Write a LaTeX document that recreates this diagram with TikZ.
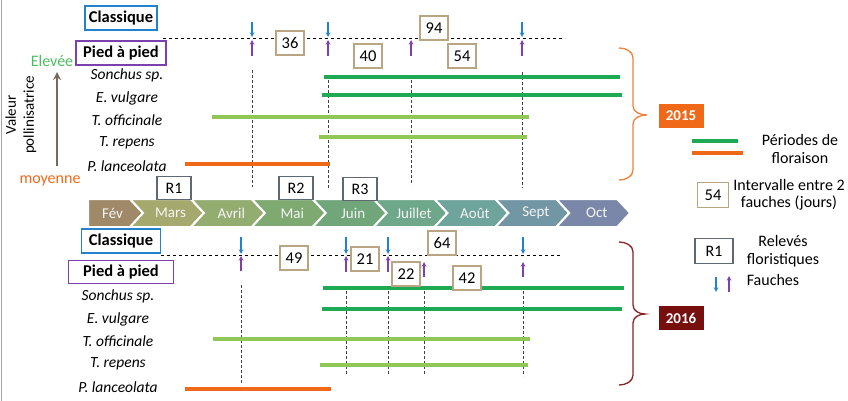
\documentclass[tikz,border=0pt]{standalone}
\usepackage{fontspec}
\setmainfont{Carlito}
\definecolor{myblue}{RGB}{35,130,205}
\definecolor{mypurple}{RGB}{125,65,175}
\definecolor{mytan}{RGB}{185,165,130}
\definecolor{mygray}{RGB}{95,105,115}
\definecolor{darkgreen}{RGB}{30,170,85}
\definecolor{lightgreen}{RGB}{145,200,85}
\definecolor{myorange}{RGB}{240,105,25}
\definecolor{bracered}{RGB}{135,35,35}
\definecolor{yearred}{RGB}{120,15,15}
\definecolor{elevgreen}{RGB}{75,190,95}
\definecolor{arrowbrown}{RGB}{120,105,95}
\definecolor{mA}{RGB}{160,137,104}
\definecolor{mB}{RGB}{166,169,110}
\definecolor{mC}{RGB}{147,172,112}
\definecolor{mD}{RGB}{126,169,113}
\definecolor{mE}{RGB}{113,166,122}
\definecolor{mF}{RGB}{110,167,137}
\definecolor{mG}{RGB}{110,164,155}
\definecolor{mH}{RGB}{115,150,165}
\definecolor{mI}{RGB}{123,135,168}
\usetikzlibrary{positioning}

\begin{document}
\begin{tikzpicture}[x=1pt,y=-1pt,
    every node/.style={font=\fontsize{15}{18}\selectfont},
    modebox/.style={draw,line width=1.3pt,font=\bfseries\fontsize{16.5}{18}\selectfont,minimum height=24pt,inner sep=0pt},
    numbox/.style={draw=mytan,line width=1.5pt,fill=white,minimum width=28pt,minimum height=24pt,inner sep=0pt,font=\fontsize{16.5}{18}\selectfont},
    relbox/.style={draw=mygray,line width=1.3pt,fill=white,minimum width=34pt,minimum height=23pt,inner sep=0pt,font=\fontsize{16}{18}\selectfont},
    yearbox/.style={draw=none,text=white,minimum width=45pt,minimum height=24pt,inner sep=0pt,font=\bfseries\fontsize{15}{17}\selectfont},
    species/.style={font=\itshape\fontsize{15.5}{18}\selectfont},
    monthlbl/.style={text=white!92!gray,font=\fontsize{15}{17}\selectfont},
    legtext/.style={align=center,font=\fontsize{16}{17.5}\selectfont},
    fauche/.style={dashed,line width=0.9pt},
    repere/.style={densely dashed,line width=0.5pt,black!75},
    bar/.style={line width=3.4pt},
    downarr/.style={-stealth,myblue,line width=1.1pt},
    uparr/.style={-stealth,mypurple,line width=1.1pt}
    ]
    \useasboundingbox (0,0) rectangle (848,401);
    \draw[gray!70,line width=1pt] (1,0) -- (1,401);

    % axe valeur pollinisatrice
    \node[rotate=90,align=center] (valeur) at (21,115) {Valeur\\pollinisatrice};
    \node[text=elevgreen,font=\fontsize{16}{18}\selectfont] (elev) at (52,61) {Elevée};
    \node[text=myorange,font=\fontsize{16}{18}\selectfont] (moy) at (50,181) {moyenne};
    \draw[arrowbrown,line width=2.5pt,-stealth] (57,166) -- (57,72);

    % les mois
    \foreach \m/\c [count=\i from 0] in {Fév/mA,Mars/mB,Avril/mC,Mai/mD,Juin/mE,Juillet/mF,Août/mG,Sept/mH,Oct/mI} {
      \pgfmathsetmacro\tip{143+60.9*\i}
      \pgfmathsetmacro\lft{ifthenelse(\i==0,88,\tip-73.9)}
      \pgfmathsetmacro\nch{ifthenelse(\i==0,0,13)}
      \filldraw[fill=\c,draw=white,line width=2pt] (\lft,199) -- (\tip-13,199) -- (\tip,213) -- (\tip-13,227) -- (\lft,227) -- (\lft+\nch,213) -- cycle;
      \node[monthlbl] (m\i) at ({(\lft+\nch+\tip)/2-3},213) {\m};
    }

    % 2015
    \node[modebox,draw=myblue,minimum width=72pt] (c15) at (121,18) {Classique};
    \node[modebox,draw=mypurple,minimum width=90pt] (p15) at (121,53) {Pied à pied};
    \node[species] (s15) at (127,75) {Sonchus sp.};
    \node[species] (e15) at (127,98) {E. vulgare};
    \node[species] (t15) at (127,120) {T. officinale};
    \node[species] (r15) at (127,143) {T. repens};
    \node[species] (l15) at (127,166) {P. lanceolata};

    \foreach \x/\a/\b in {252/70/187,328/75/188,411/75/185,522/72/188}
      \draw[repere] (\x,\a) -- (\x,\b);
    \draw[fauche] (163,38) -- (565,38);
    \foreach \x in {252,328,522}
      \draw[downarr] (\x,22) -- (\x,37);
    \foreach \x in {252,328,411,522}
      \draw[uparr] (\x,56) -- (\x,40);

    \draw[bar,darkgreen] (324,77) -- (620,77);
    \draw[bar,darkgreen] (322,95) -- (622,95);
    \draw[bar,lightgreen] (212,117) -- (529,117);
    \draw[bar,lightgreen] (319,137) -- (527,137);
    \draw[bar,myorange] (185,164) -- (330,164);

    \node[numbox] (i36) at (290,43) {36};
    \node[numbox] (i94) at (434,28) {94};
    \node[numbox] (i40) at (368,56) {40};
    \node[numbox] (i54) at (462,56) {54};

    \node[relbox] (r1) at (174,188) {R1};
    \node[relbox] (r2) at (296,188) {R2};
    \node[relbox] (r3) at (360,189) {R3};

    \draw[myorange!85!white,line width=1.3pt] (619,48) to[out=0,in=90] (633,58) -- (633,106)
      to[out=-90,in=180] (647,115) to[out=180,in=90] (633,124) -- (633,170) to[out=-90,in=0] (619,180);
    \node[yearbox,fill=myorange] (y15) at (681,116) {2015};

    % 2016
    \node[modebox,draw=myblue,minimum width=79pt] (c16) at (121,241) {Classique};
    \node[modebox,draw=mypurple,minimum width=105pt,minimum height=23pt] (p16) at (121,272) {Pied à pied};
    \node[species] (s16) at (118,296) {Sonchus sp.};
    \node[species] (e16) at (118,319) {E. vulgare};
    \node[species] (t16) at (118,341) {T. officinale};
    \node[species] (r16) at (118,364) {T. repens};
    \node[species] (l16) at (118,387) {P. lanceolata};

    \foreach \x/\a/\b in {241/285/385,346/286/375,388/286/375,424/286/375,523/286/376}
      \draw[repere] (\x,\a) -- (\x,\b);
    \draw[fauche] (161,255) -- (562,255);
    \foreach \x in {241,346,388,523}
      \draw[downarr] (\x,237) -- (\x,254);
    \foreach \x/\a/\b in {241/271/256,346/272/256,388/272/256,424/277/262,523/277/262}
      \draw[uparr] (\x,\a) -- (\x,\b);

    \draw[bar,darkgreen] (323,288) -- (624,288);
    \draw[bar,darkgreen] (322,309) -- (622,309);
    \draw[bar,lightgreen] (213,339) -- (530,339);
    \draw[bar,lightgreen] (320,365) -- (528,365);
    \draw[bar,myorange] (185,389) -- (331,389);

    \node[numbox] (i49) at (294,258) {49};
    \node[numbox] (i21) at (365,259) {21};
    \node[numbox] (i22) at (406,274) {22};
    \node[numbox] (i64) at (442,243) {64};
    \node[numbox] (i42) at (467,278) {42};

    \draw[bracered,line width=1.3pt] (619,242) to[out=0,in=90] (633,252) -- (633,305)
      to[out=-90,in=180] (645,314) to[out=180,in=90] (633,323) -- (633,375) to[out=-90,in=0] (619,385);
    \node[yearbox,fill=yearred] (y16) at (681,318) {2016};

    % legende
    \draw[bar,darkgreen] (692,141) -- (738,141);
    \draw[bar,myorange] (692,153) -- (743,153);
    \node[legtext] (lflor) at (800,149) {Périodes de\\floraison};
    \node[numbox,minimum width=31pt,minimum height=25pt] (lint) at (713,195) {54};
    \node[legtext] (lintt) at (789,195) {Intervalle entre 2\\fauches (jours)};
    \node[relbox,minimum width=38pt,minimum height=25pt] (lrel) at (714,251) {R1};
    \node[legtext] (lrelt) at (783,251) {Relevés\\floristiques};
    \draw[downarr] (716,277) -- (716,292);
    \draw[uparr] (729,292) -- (729,276);
    \node[legtext] (lfau) at (773,280) {Fauches};
\end{tikzpicture}
\end{document}
